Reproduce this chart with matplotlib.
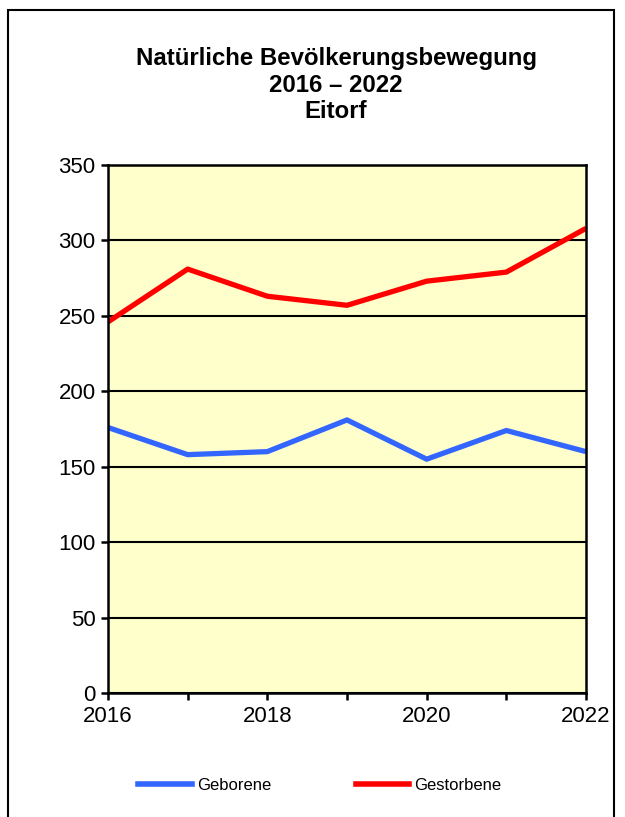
import matplotlib
matplotlib.use("Agg")
import matplotlib.pyplot as plt
from matplotlib.patches import Rectangle
from matplotlib.lines import Line2D

years = [2016, 2017, 2018, 2019, 2020, 2021, 2022]
geborene = [176, 158, 160, 181, 155, 174, 160]
gestorbene = [246, 281, 263, 257, 273, 279, 308]
title_lines = ["Natürliche Bevölkerungsbewegung", "2016 \u2013 2022", "Eitorf"]

plt.rcParams['font.family'] = ['Liberation Sans', 'DejaVu Sans']

W, H = 625, 817
fig = plt.figure(figsize=(W / 100, H / 100), dpi=100)
fig.patch.set_facecolor('white')

# outer frame
fig.patches.append(Rectangle((8 / W, -0.01), 606 / W, 1 - 10 / H + 0.01,
                             transform=fig.transFigure, fill=False,
                             edgecolor='black', linewidth=1.5))

ax = fig.add_axes([108 / W, 1 - 693 / H, 478 / W, 528 / H])
ax.set_facecolor('#FFFFCC')

ax.plot(years, geborene, color='#3366FF', linewidth=3.8, solid_capstyle='butt')
ax.plot(years, gestorbene, color='#FF0000', linewidth=3.8, solid_capstyle='butt')

ax.set_xlim(2016, 2022)
ax.set_ylim(0, 350)
ax.set_yticks(range(0, 351, 50))
ax.set_xticks(years)
ax.set_xticklabels([str(y) if y % 2 == 0 else '' for y in years])
ax.yaxis.grid(True, color='black', linewidth=1.5)
ax.set_axisbelow(True)
for s in ax.spines.values():
    s.set_linewidth(1.8)
ax.tick_params(axis='both', direction='out', length=5, width=1.8,
               labelsize=16, pad=4)

for i, line in enumerate(title_lines):
    fig.text(336 / W, 1 - (58.5 + i * 26.5) / H, line, ha='center', va='center',
             fontsize=17.3, fontweight='bold')

handles = [Line2D([], [], color='#3366FF', linewidth=4),
           Line2D([], [], color='#FF0000', linewidth=4)]
fig.legend(handles, ['Geborene', 'Gestorbene'], loc='center',
           bbox_to_anchor=(320 / W, 1 - 785 / H), ncol=2, frameon=False,
           fontsize=12, handlelength=3.2, handletextpad=0.3, columnspacing=5.1)

fig.savefig('out.png', dpi=100)
